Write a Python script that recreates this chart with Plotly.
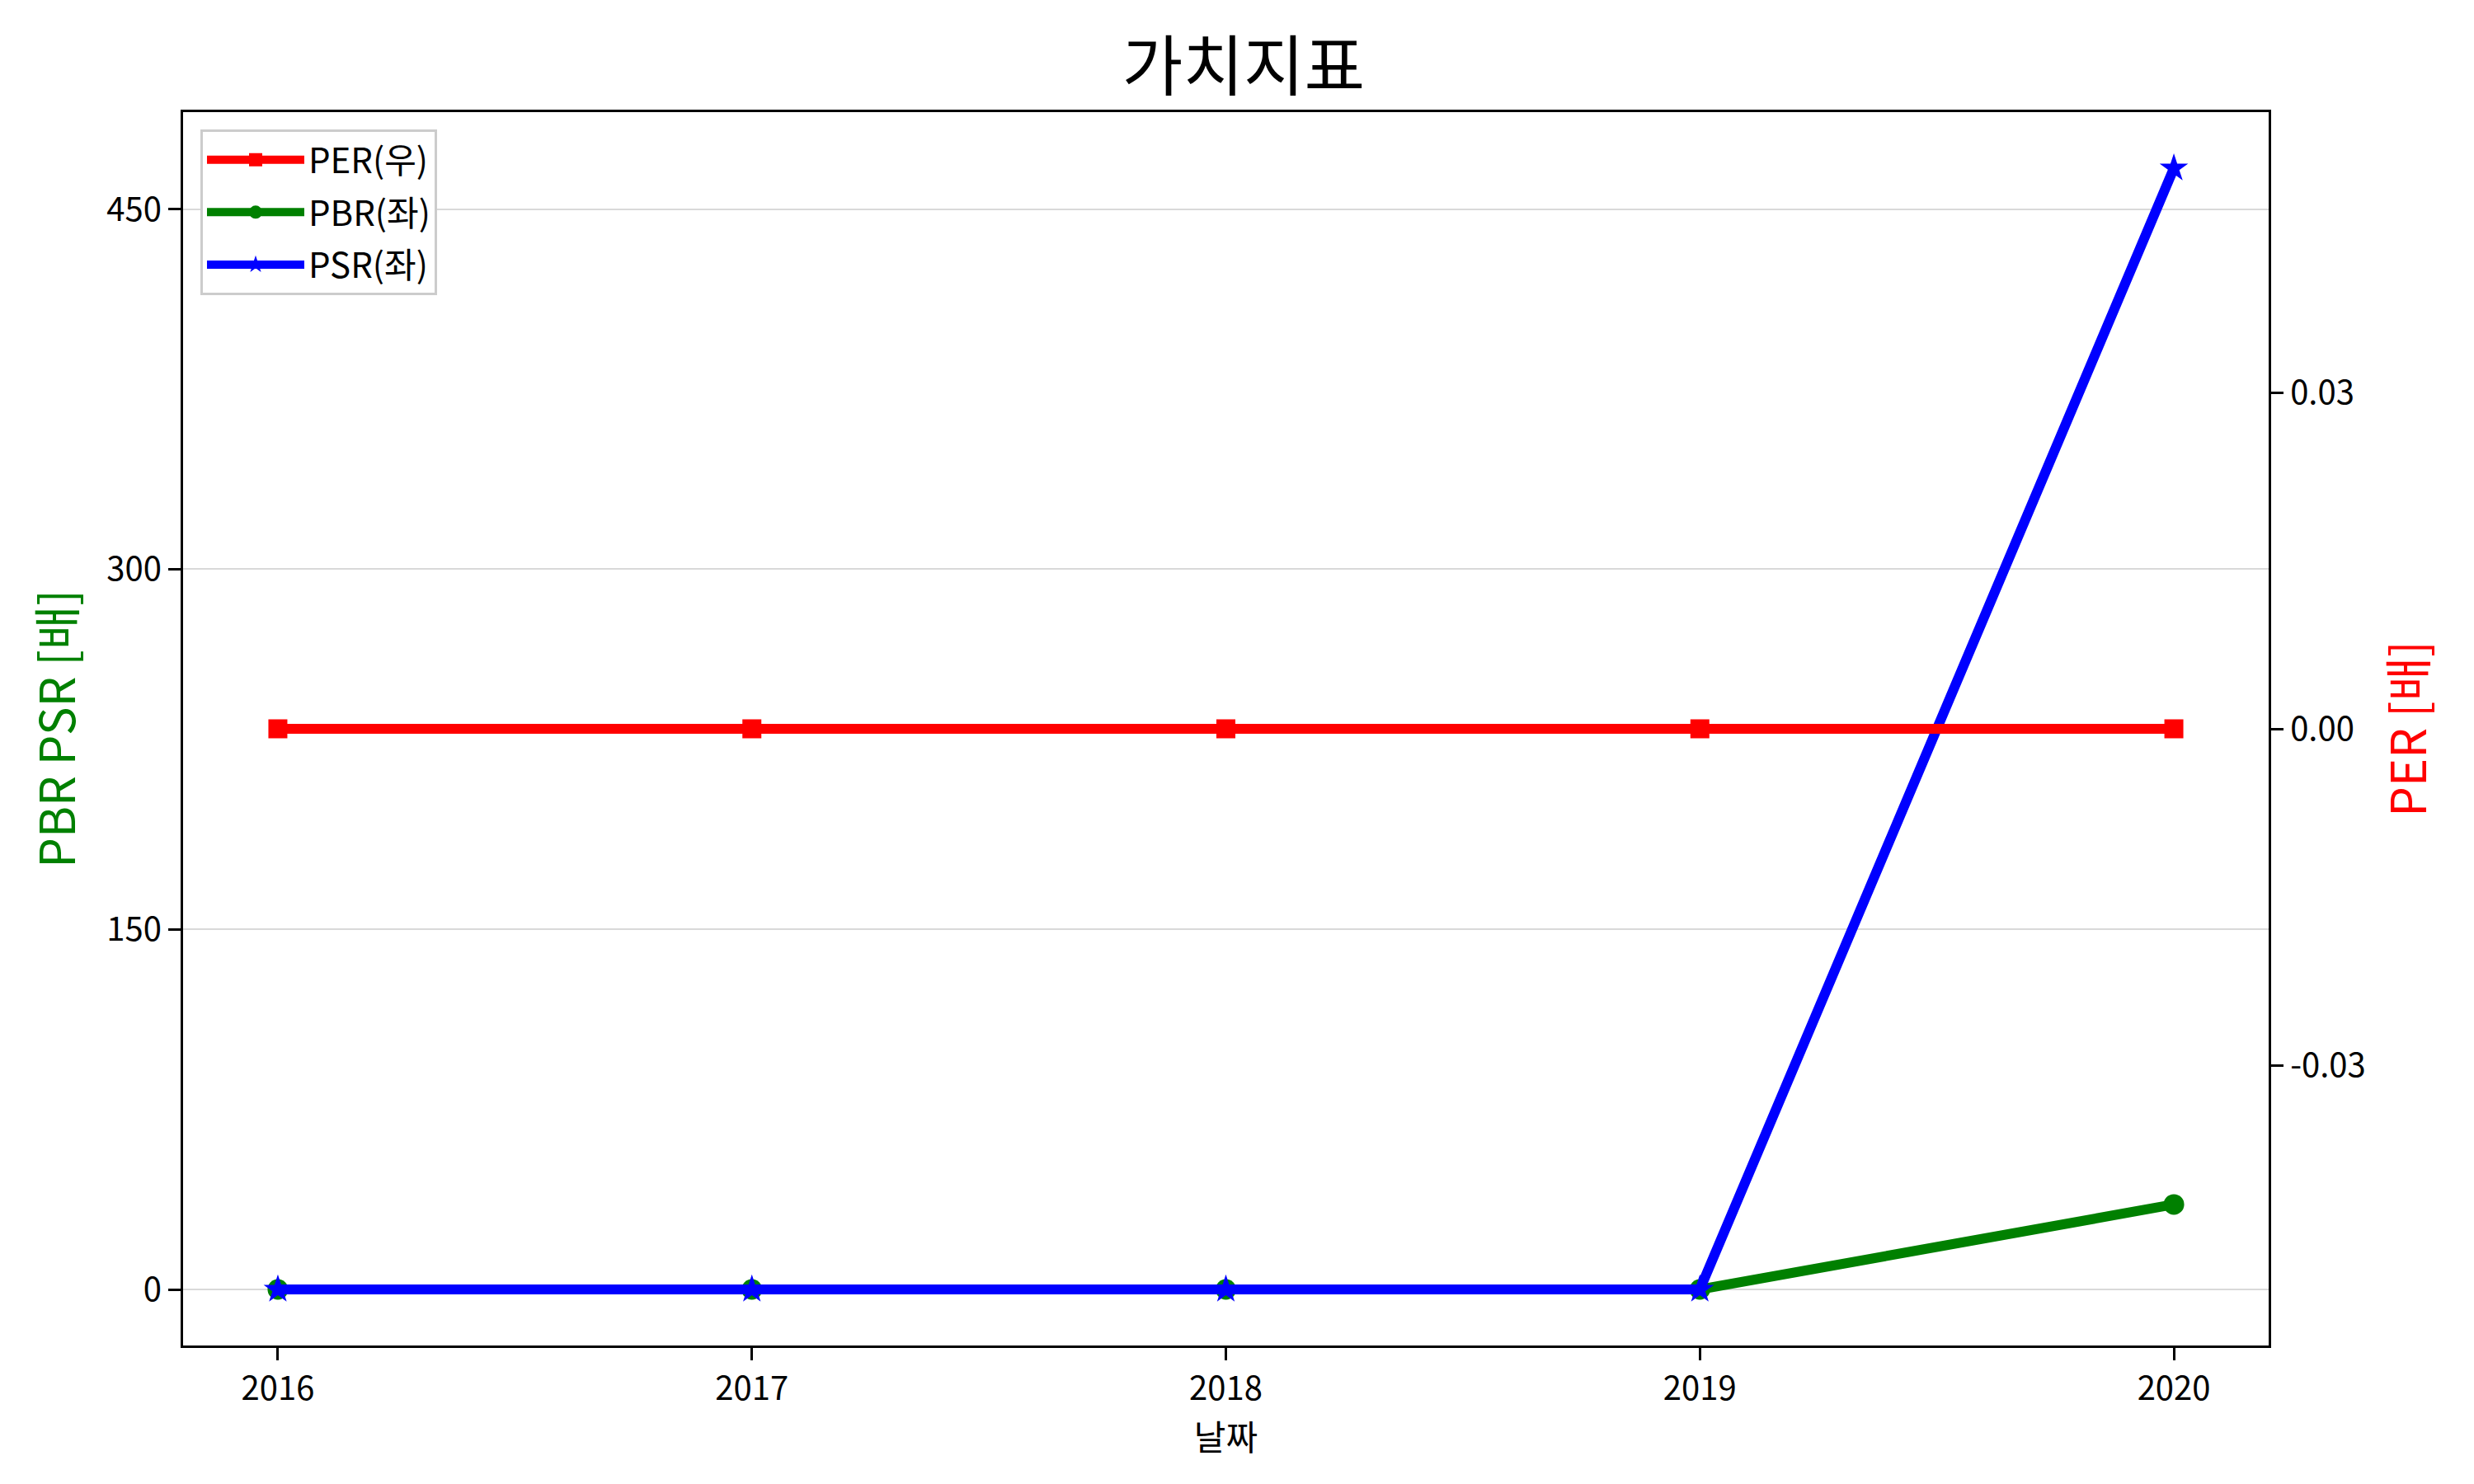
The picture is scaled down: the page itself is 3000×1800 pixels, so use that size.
import plotly.graph_objects as go

years = [2016, 2017, 2018, 2019, 2020]
per = [0, 0, 0, 0, 0]
pbr = [0, 0, 0, 0, 35.4]
psr = [0, 0, 0, 0, 467]

left_ticks = [0, 150, 300, 450]
right_ticks = [-0.03, 0.0, 0.03]
right_ticktext = ["-0.03", "0.00", "0.03"]

FONT = "Noto Sans CJK KR, Noto Sans, sans-serif"

fig = go.Figure()
fig.add_trace(go.Scatter(x=years, y=pbr, name="PBR(좌)", mode="lines+markers",
                         line=dict(color="green", width=12),
                         marker=dict(symbol="circle", size=25, color="green"),
                         legendrank=2, legendgroup="b", yaxis="y"))
fig.add_trace(go.Scatter(x=years, y=psr, name="PSR(좌)", mode="lines+markers",
                         line=dict(color="blue", width=12),
                         marker=dict(symbol="star", size=26, color="blue"),
                         legendrank=3, legendgroup="c", yaxis="y"))
fig.add_trace(go.Scatter(x=years, y=per, name="PER(우)", mode="lines+markers",
                         line=dict(color="red", width=12),
                         marker=dict(symbol="square", size=23, color="red"),
                         legendrank=1, legendgroup="a", yaxis="y2"))

axis_common = dict(showline=True, linecolor="black", linewidth=3.3,
                   ticks="outside", ticklen=15, tickwidth=3.3, tickcolor="black",
                   tickfont=dict(family=FONT, size=40, color="black"), zeroline=False)

fig.update_layout(
    width=3000, height=1800,
    paper_bgcolor="white", plot_bgcolor="white",
    margin=dict(l=214, r=257, t=128, b=176),
    font=dict(family=FONT),
    title=dict(text="가치지표", x=0.5, xanchor="center", y=1 - 73 / 1800, yanchor="middle",
               font=dict(family=FONT, size=80, color="black")),
    xaxis=dict(range=[2015.8, 2020.2], tickvals=years, ticktext=[str(y) for y in years],
               mirror=True, showgrid=False,
               title=dict(text="날짜", font=dict(family=FONT, size=42, color="black"), standoff=0),
               **axis_common),
    yaxis=dict(range=[-23.35, 490.4], tickvals=left_ticks, ticktext=[str(t) for t in left_ticks],
               showgrid=True, gridcolor="#d9d9d9", gridwidth=2,
               title=dict(text="PBR PSR [배]", font=dict(family=FONT, size=58, color="green"), standoff=19),
               **axis_common),
    yaxis2=dict(range=[-0.055, 0.055], tickvals=right_ticks, ticktext=right_ticktext,
                overlaying="y", side="right", showgrid=False,
                title=dict(text="PER [배]", font=dict(family=FONT, size=58, color="red"), standoff=34),
                **axis_common),
    legend=dict(x=0.0083, y=0.986, xanchor="left", yanchor="top",
                bgcolor="white", bordercolor="#cccccc", borderwidth=3,
                font=dict(family=FONT, size=42, color="black"),
                itemwidth=118, tracegroupgap=6),
    showlegend=True,
)

fig.write_html("out.html")
